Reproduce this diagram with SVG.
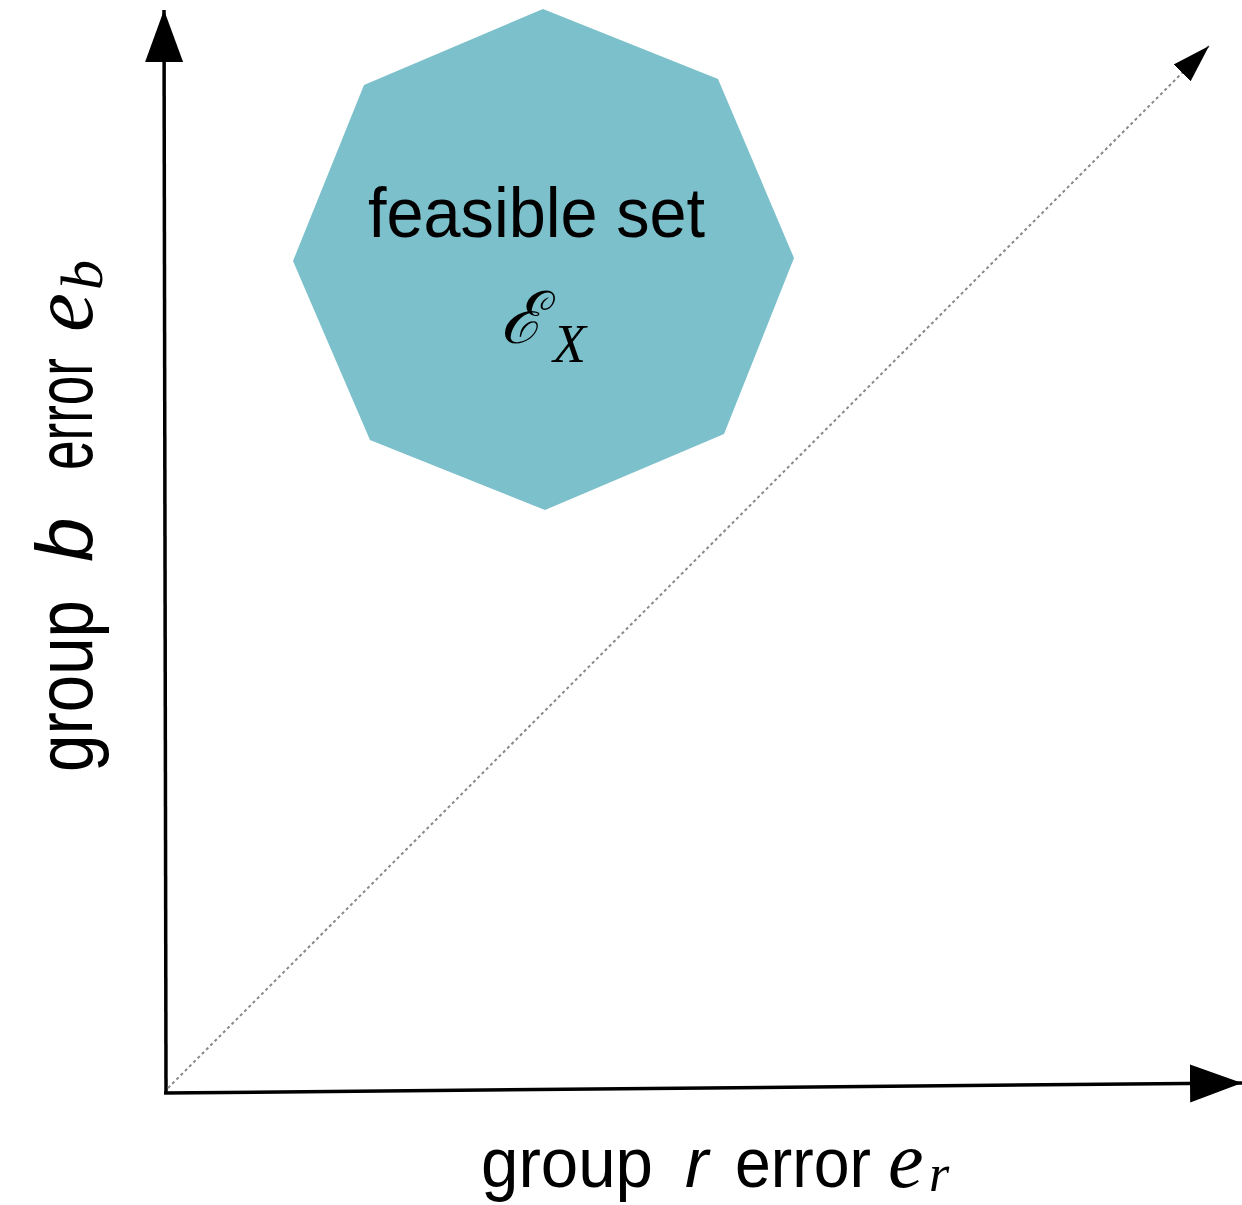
<svg xmlns="http://www.w3.org/2000/svg" width="1242" height="1205" viewBox="0 0 1242 1205">
<style>
.sans{font-family:"Liberation Sans","DejaVu Sans",sans-serif;fill:#000}
.math{font-family:"Liberation Serif","DejaVu Serif",serif;font-style:italic;fill:#000}
.axis{stroke:#000;stroke-width:3.5;fill:none}
.diag{stroke:#888;stroke-width:2;stroke-dasharray:3 3;fill:none}
</style>
<defs>
<marker id="ah" markerUnits="userSpaceOnUse" markerWidth="54" markerHeight="40" refX="52" refY="20" orient="auto">
<path d="M0,1 L52,20 L0,39 Z" fill="#000"/>
</marker>
<marker id="ahs" markerUnits="userSpaceOnUse" markerWidth="40" markerHeight="30" refX="38" refY="15" orient="auto">
<path d="M0,3 L38,15 L0,27 Z" fill="#000"/>
</marker>
</defs>
<rect width="1242" height="1205" fill="#fff"/>
<g id="feasible-set">
<polygon points="543,9 718,79 794,258 724,434 545,510 370,440 293,261 364,85" fill="#7bc0cb"/>
<text class="sans" x="368" y="237" font-size="70" textLength="337" lengthAdjust="spacingAndGlyphs">feasible set</text>
<text x="500" y="343" font-family="DejaVu Serif,Liberation Serif,serif" font-style="italic" font-size="72">ℰ</text>
<text class="math" x="553" y="362" font-size="54">X</text>
</g>
<g id="connectors">
<path class="axis" d="M166,1093 L164,10" marker-end="url(#ah)"/>
<path class="axis" d="M164,1093 L1242,1083" marker-end="url(#ah)"/>
<path class="diag" d="M168,1088 L1209,46" marker-end="url(#ahs)"/>
</g>
<g id="x-label">
<text class="sans" x="481" y="1187" font-size="70" textLength="172" lengthAdjust="spacingAndGlyphs">group</text>
<text class="sans" x="685" y="1187" font-size="70" font-style="italic">r</text>
<text class="sans" x="735" y="1187" font-size="70" textLength="136" lengthAdjust="spacingAndGlyphs">error</text>
<text class="math" x="888" y="1187" font-size="80">e</text>
<text class="math" x="929" y="1191" font-size="52">r</text>
</g>
<g id="y-label" transform="translate(92,772) rotate(-90)">
<text class="sans" x="0" y="0" font-size="80" textLength="172" lengthAdjust="spacingAndGlyphs">group</text>
<text class="sans" x="210" y="0" font-size="80" font-style="italic">b</text>
<text class="sans" x="302" y="0" font-size="80" textLength="112" lengthAdjust="spacingAndGlyphs">error</text>
<text class="math" x="440" y="0" font-size="88">e</text>
<text class="math" x="482" y="10" font-size="60">b</text>
</g>
</svg>
